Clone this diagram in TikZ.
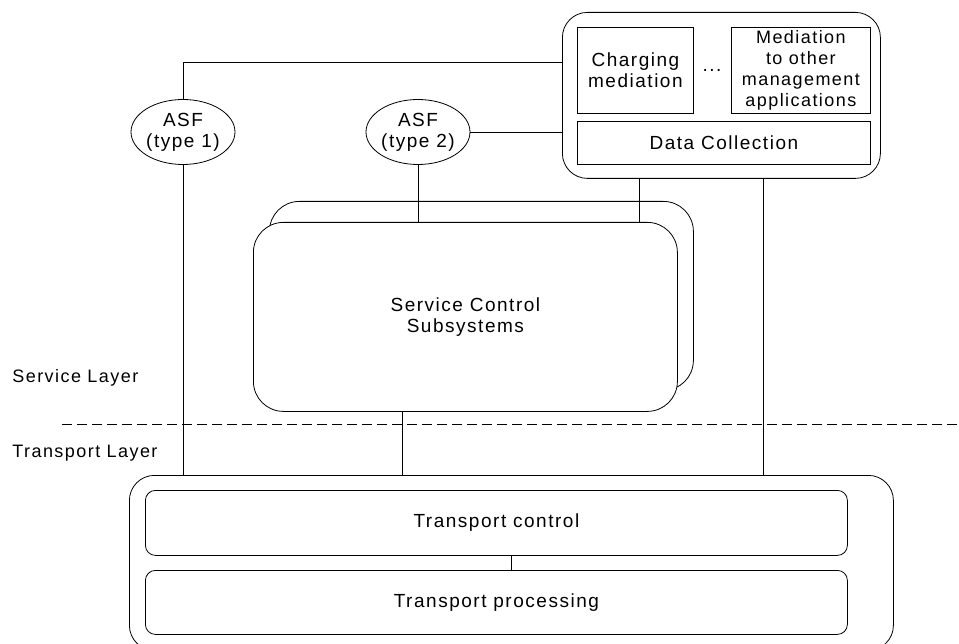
\documentclass[tikz,border=0pt]{standalone}
\usepackage{fontspec}
\setmainfont{Liberation Sans}[LetterSpace=8]
\usetikzlibrary{shapes.geometric}
\begin{document}
\begin{tikzpicture}[x=1pt,y=-1pt,
  line width=0.8pt,
  every node/.style={font=\fontsize{19}{21}\selectfont, align=center, inner sep=0pt},
  lbl/.style={font=\fontsize{18}{21}\selectfont, anchor=west},
  rbox/.style={draw, fill=white, anchor=north west},
  sqbox/.style={draw, fill=white, anchor=north west},
  asf/.style={draw, ellipse, fill=white, minimum width=101pt, minimum height=65pt}]
\useasboundingbox (0,0) rectangle (959,644);
\clip (0,0) rectangle (959,644);
\coordinate (toprow) at (0,62);
\coordinate (xa) at (639,0);
\coordinate (xb) at (763,0);
\coordinate (xc) at (402,0);
\coordinate (xd) at (511,0);
\coordinate (dl) at (62,424);
\coordinate (dr) at (959,424);

% management block
\node[rbox, rounded corners=25pt, minimum width=318pt, minimum height=166pt] (mgmt) at (562,12) {};
\node[sqbox, minimum width=116pt, minimum height=86pt] (chg) at (577,27) {Charging\\mediation};
\node (dots) at (712,70) {...};
\node[sqbox, minimum width=139pt, minimum height=86pt, font=\fontsize{18}{21}\selectfont] (med) at (731,27) {Mediation\\to other\\management\\applications};
\node[sqbox, minimum width=293pt, minimum height=43pt] (dc) at (577,121) {Data Collection};

% ASFs
\node[asf] (asf1) at (183,132) {ASF\\(type 1)};
\node[asf] (asf2) at (418,132) {ASF\\(type 2)};

% service control subsystems
\node[rbox, rounded corners=30pt, minimum width=424pt, minimum height=189pt] (scsback) at (269,201) {};
\node[rbox, rounded corners=30pt, minimum width=424pt, minimum height=189pt] (scs) at (253,222) {Service Control\\Subsystems};

% transport
\node[rbox, rounded corners=25pt, minimum width=764pt, minimum height=175pt] (tr) at (129,475) {};
\node[rbox, rounded corners=10pt, minimum width=702pt, minimum height=65pt] (tc) at (145,490) {Transport control};
\node[rbox, rounded corners=10pt, minimum width=702pt, minimum height=64pt] (tp) at (145,570) {Transport processing};

% layer labels
\node[lbl] (sl) at (12,378) {Service Layer};
\node[lbl] (tl) at (12,453) {Transport Layer};
\draw[dash pattern=on 10pt off 5pt] (dl) -- (dr);

% connectors
\draw (asf1.north) |- (mgmt.west |- toprow);
\draw (asf2.east) -- (asf2.east -| mgmt.west);
\draw (asf2.south) -- (asf2.south |- scs.north);
\draw (mgmt.south -| xa) -- (scs.north -| xa);
\draw (mgmt.south -| xb) -- (tr.north -| xb);
\draw (asf1.south) -- (asf1.south |- tr.north);
\draw (scs.south -| xc) -- (tr.north -| xc);
\draw (tc.south -| xd) -- (tp.north -| xd);
\end{tikzpicture}
\end{document}
